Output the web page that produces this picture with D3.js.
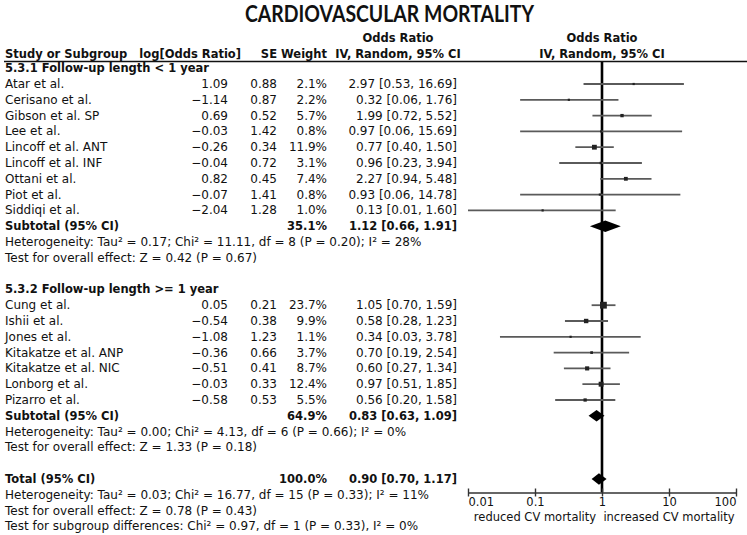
<!DOCTYPE html>
<html><head><meta charset="utf-8">
<script src="https://cdn.jsdelivr.net/npm/d3@7"></script>
<style>body{margin:0;background:#fff}</style>
</head><body><svg id="c" width="747" height="535"></svg>
<script>
// ---------- data ----------
const chartTitle = "CARDIOVASCULAR MORTALITY";
const group1Label = "5.3.1 Follow-up length < 1 year";
const studies1 = ["Atar et al.", "Cerisano et al.", "Gibson et al. SP", "Lee et al.", "Lincoff et al. ANT", "Lincoff et al. INF", "Ottani et al.", "Piot et al.", "Siddiqi et al."];
const logOR1 = [1.09, -1.14, 0.69, -0.03, -0.26, -0.04, 0.82, -0.07, -2.04];
const se1 = [0.88, 0.87, 0.52, 1.42, 0.34, 0.72, 0.45, 1.41, 1.28];
const weight1 = [2.1, 2.2, 5.7, 0.8, 11.9, 3.1, 7.4, 0.8, 1.0];
const or1 = [2.97, 0.32, 1.99, 0.97, 0.77, 0.96, 2.27, 0.93, 0.13];
const lo1 = [0.53, 0.06, 0.72, 0.06, 0.40, 0.23, 0.94, 0.06, 0.01];
const hi1 = [16.69, 1.76, 5.52, 15.69, 1.50, 3.94, 5.48, 14.78, 1.60];
const subtotal1 = [35.1, 1.12, 0.66, 1.91]; // weight, OR, lo, hi
const het1 = "Heterogeneity: Tau² = 0.17; Chi² = 11.11, df = 8 (P = 0.20); I² = 28%";
const effect1 = "Test for overall effect: Z = 0.42 (P = 0.67)";

const group2Label = "5.3.2 Follow-up length >= 1 year";
const studies2 = ["Cung et al.", "Ishii et al.", "Jones et al.", "Kitakatze et al. ANP", "Kitakatze et al. NIC", "Lonborg et al.", "Pizarro et al."];
const logOR2 = [0.05, -0.54, -1.08, -0.36, -0.51, -0.03, -0.58];
const se2 = [0.21, 0.38, 1.23, 0.66, 0.41, 0.33, 0.53];
const weight2 = [23.7, 9.9, 1.1, 3.7, 8.7, 12.4, 5.5];
const or2 = [1.05, 0.58, 0.34, 0.70, 0.60, 0.97, 0.56];
const lo2 = [0.70, 0.28, 0.03, 0.19, 0.27, 0.51, 0.20];
const hi2 = [1.59, 1.23, 3.78, 2.54, 1.34, 1.85, 1.58];
const subtotal2 = [64.9, 0.83, 0.63, 1.09];
const het2 = "Heterogeneity: Tau² = 0.00; Chi² = 4.13, df = 6 (P = 0.66); I² = 0%";
const effect2 = "Test for overall effect: Z = 1.33 (P = 0.18)";

const total = [100.0, 0.90, 0.70, 1.17];
const hetTotal = "Heterogeneity: Tau² = 0.03; Chi² = 16.77, df = 15 (P = 0.33); I² = 11%";
const effectTotal = "Test for overall effect: Z = 0.78 (P = 0.43)";
const subgroupTest = "Test for subgroup differences: Chi² = 0.97, df = 1 (P = 0.33), I² = 0%";

const tickValues = [0.01, 0.1, 1, 10, 100];
const tickLabels = ["0.01", "0.1", "1", "10", "100"];
const axisTitles = ["reduced CV mortality", "increased CV mortality"];

// ---------- layout ----------
const svg = d3.select("#c");
const FONT = "'DejaVu Sans', Verdana, sans-serif";
const FS = 12, FSB = 11.5, FSA = 11.5;
const rowY = r => 68.2 + 15.8 * r;
const x = d3.scaleLog().domain([0.01, 100]).range([468, 736]);
const sq = d3.scaleSqrt().domain([0, 23.7]).range([0, 6.8]);
const f2 = d3.format(".2f"), f1 = d3.format(".1f");
const orText = (o, l, h) => `${f2(o)} [${f2(l)}, ${f2(h)}]`;

const COL = {name: 5, log: 228, logH: 241, se: 277, w: 327, or: 457, orC: 398};

function txt(px, py, s, o = {}) {
  return svg.append("text").attr("x", px).attr("y", py)
    .attr("font-family", o.family || FONT).attr("font-size", o.size || (o.bold ? FSB : FS))
    .attr("font-weight", o.bold ? "bold" : "normal")
    .attr("text-anchor", o.anchor || "start").attr("fill", "#111").text(s);
}

// title
txt(389.5, 22, chartTitle, {family: "'Liberation Sans Narrow', 'Lato', sans-serif", size: 22, bold: true, anchor: "middle"})
  .attr("textLength", 289).attr("lengthAdjust", "spacingAndGlyphs");

// headers
txt(COL.orC, 42, "Odds Ratio", {bold: true, anchor: "middle"});
txt(x(1), 42, "Odds Ratio", {bold: true, anchor: "middle"});
txt(COL.name, 58, "Study or Subgroup", {bold: true});
txt(COL.logH, 58, "log[Odds Ratio]", {bold: true, anchor: "end"});
txt(COL.se, 58, "SE", {bold: true, anchor: "end"});
txt(COL.w, 58, "Weight", {bold: true, anchor: "end"});
txt(COL.orC, 58, "IV, Random, 95% CI", {bold: true, anchor: "middle"});
txt(x(1), 58, "IV, Random, 95% CI", {bold: true, anchor: "middle"});
svg.append("line").attr("x1", 4).attr("x2", 747).attr("y1", 61.5).attr("y2", 61.5)
  .attr("stroke", "#111").attr("stroke-width", 1.5);

// vertical line of no effect
const axisY = 492.5;
svg.append("line").attr("x1", x(1)).attr("x2", x(1)).attr("y1", 62).attr("y2", axisY)
  .attr("stroke", "#000").attr("stroke-width", 2.6);

function drawGroup(startRow, label, names, lg, se, wt, or, lo, hi, sub, het, eff) {
  txt(COL.name, rowY(startRow) + 4, label, {bold: true});
  names.forEach((n, i) => {
    const y = rowY(startRow + 1 + i);
    txt(COL.name, y + 4, n);
    txt(COL.log, y + 4, f2(lg[i]), {anchor: "end"});
    txt(COL.se, y + 4, f2(se[i]), {anchor: "end"});
    txt(COL.w, y + 4, f1(wt[i]) + "%", {anchor: "end"});
    txt(COL.or, y + 4, orText(or[i], lo[i], hi[i]), {anchor: "end"});
    svg.append("line").attr("x1", x(Math.max(lo[i], 0.01))).attr("x2", x(Math.min(hi[i], 100)))
      .attr("y1", y).attr("y2", y).attr("stroke", "#5a5a5a").attr("stroke-width", 1.8);
    const s = Math.max(2.2, sq(wt[i]));
    svg.append("rect").attr("x", x(or[i]) - s / 2).attr("y", y - s / 2)
      .attr("width", s).attr("height", s).attr("fill", "#222");
  });
  const sr = startRow + 1 + names.length;
  const ys = rowY(sr);
  txt(COL.name, ys + 4, "Subtotal (95% CI)", {bold: true});
  txt(COL.w, ys + 4, f1(sub[0]) + "%", {bold: true, anchor: "end"});
  txt(COL.or, ys + 4, orText(sub[1], sub[2], sub[3]), {bold: true, anchor: "end"});
  diamond(ys, sub);
  txt(COL.name, rowY(sr + 1) + 4, het);
  txt(COL.name, rowY(sr + 2) + 4, eff);
  return sr + 4;
}
function diamond(y, d) {
  const h = 5.8;
  svg.append("path").attr("d",
    `M${x(d[2])},${y}L${x(d[1])},${y - h}L${x(d[3])},${y}L${x(d[1])},${y + h}Z`)
    .attr("fill", "#000");
}

let r = drawGroup(0, group1Label, studies1, logOR1, se1, weight1, or1, lo1, hi1, subtotal1, het1, effect1);
r = drawGroup(r, group2Label, studies2, logOR2, se2, weight2, or2, lo2, hi2, subtotal2, het2, effect2);
const yt = rowY(r);
txt(COL.name, yt + 4, "Total (95% CI)", {bold: true});
txt(COL.w, yt + 4, f1(total[0]) + "%", {bold: true, anchor: "end"});
txt(COL.or, yt + 4, orText(total[1], total[2], total[3]), {bold: true, anchor: "end"});
diamond(yt, total);
txt(COL.name, rowY(r + 1) + 4, hetTotal);
txt(COL.name, rowY(r + 2) + 4, effectTotal);
txt(COL.name, rowY(r + 3) + 4, subgroupTest);

// axis
const ax = svg.append("g").attr("transform", `translate(0,${axisY})`)
  .call(d3.axisBottom(x).tickValues(tickValues).tickFormat((d, i) => tickLabels[i])
    .tickSizeInner(4).tickSizeOuter(0).tickPadding(1));
ax.select(".domain").attr("stroke", "#333").attr("stroke-width", 1.4);
ax.selectAll(".tick line").attr("y1", -4).attr("y2", 4).attr("stroke", "#333").attr("stroke-width", 1.4);
ax.selectAll(".tick text").attr("font-family", FONT).attr("font-size", FSA).attr("fill", "#111")
  .attr("text-anchor", (d, i) => i === 0 ? "start" : (i === tickValues.length - 1 ? "end" : "middle"));
txt((x(0.01) + x(1)) / 2, 520.5, axisTitles[0], {anchor: "middle", size: FSA});
txt((x(1) + x(100)) / 2, 520.5, axisTitles[1], {anchor: "middle", size: FSA});
</script>
</body></html>
